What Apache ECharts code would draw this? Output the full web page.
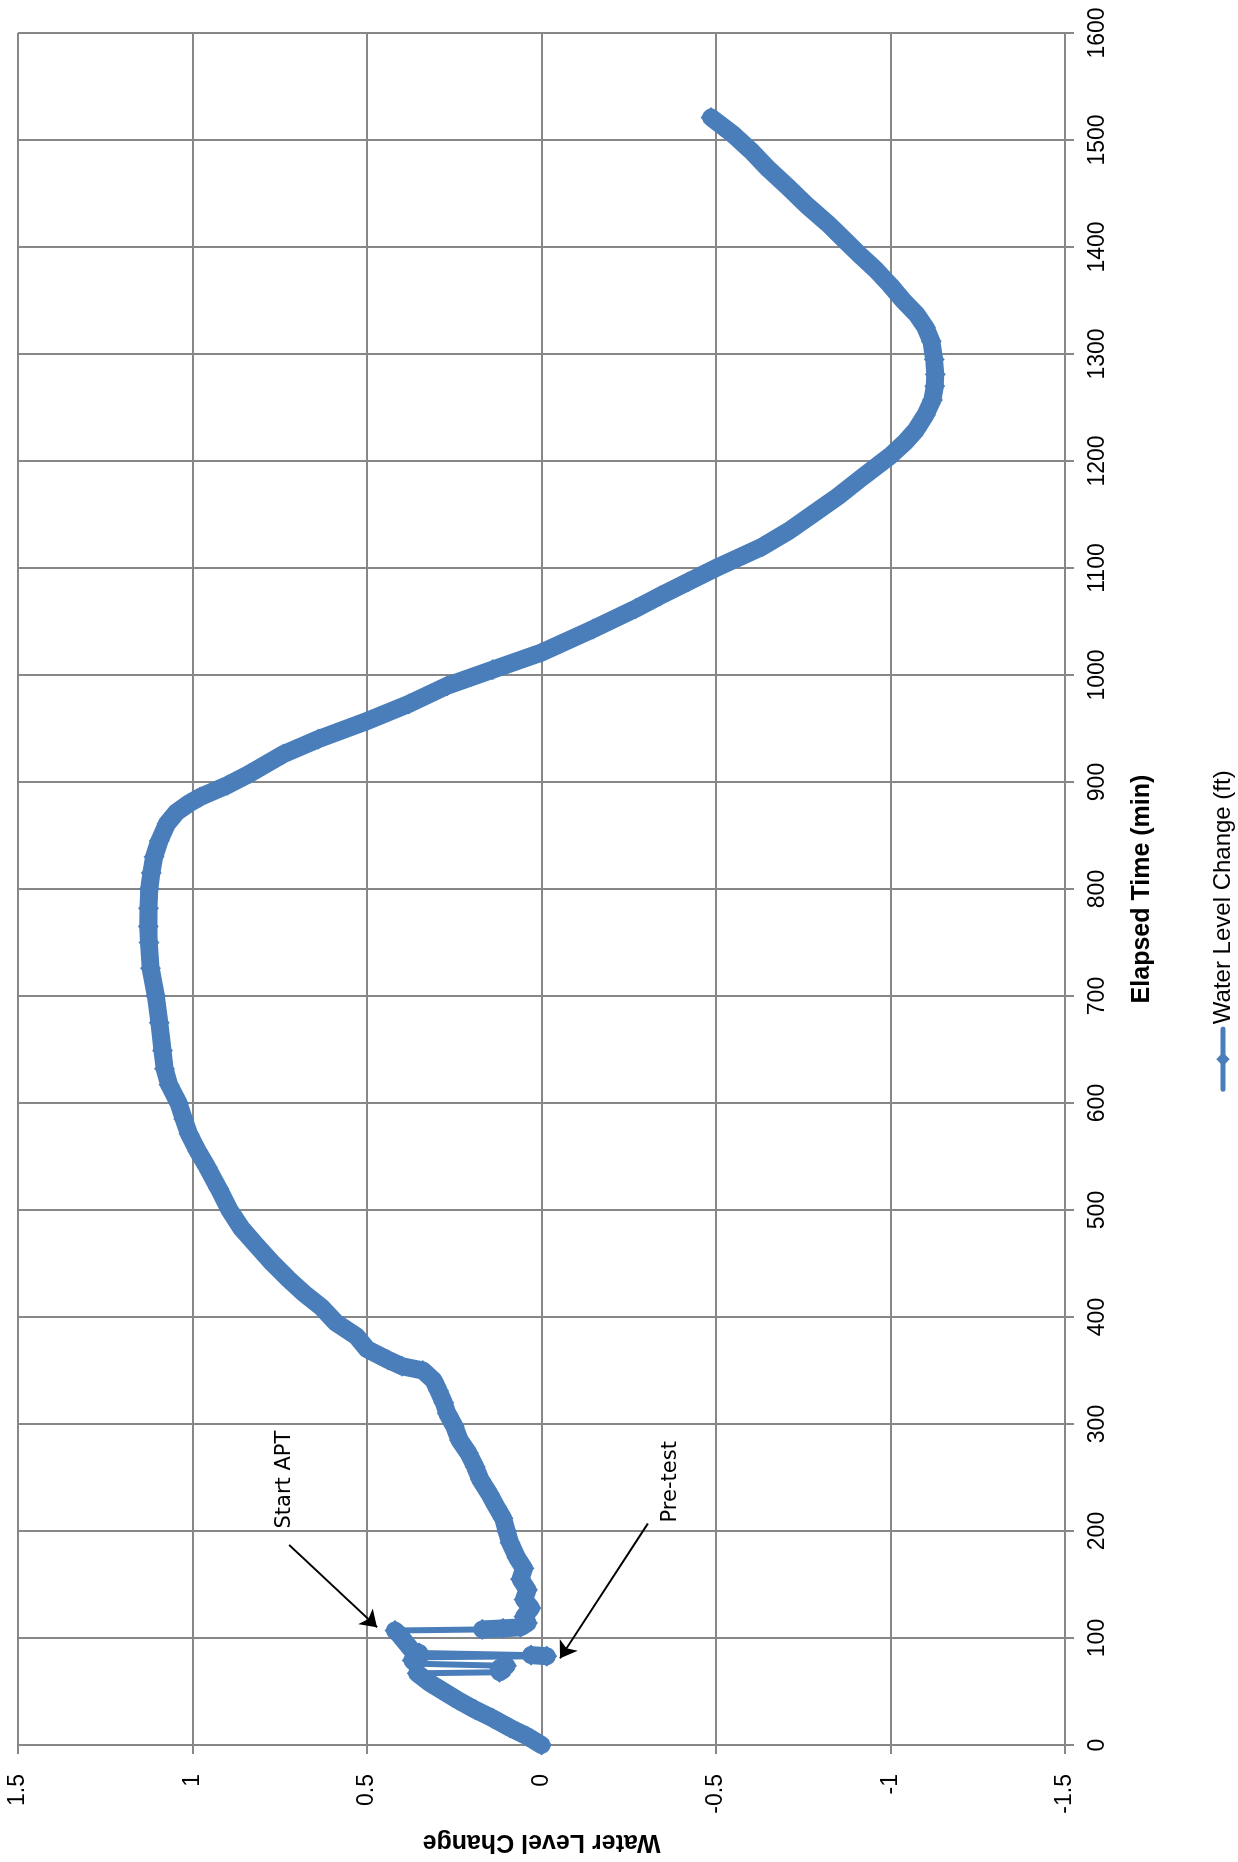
<!DOCTYPE html>
<html>
<head>
<meta charset="utf-8">
<script src="https://cdn.jsdelivr.net/npm/echarts@6/dist/echarts.min.js"></script>
<style>
  html, body { margin: 0; padding: 0; background: #fff; overflow: hidden; width: 1238px; height: 1862px; }
  #chart {
    position: absolute; left: 0; top: 0;
    width: 1862px; height: 1238px;
    transform-origin: 0 0;
    transform: translateY(1862px) rotate(-90deg);
  }
</style>
</head>
<body>
<div id="chart"></div>
<script>
// Elapsed time (min) and water level change (ft)
const elapsedTime = [
  0, 8, 16, 25, 33, 42, 50, 58, 67,
  68, 70, 72, 74,
  76, 79, 82,
  83, 84,
  86, 88, 92, 96, 100, 104, 107,
  108, 109, 110, 114, 120, 128, 136, 145, 155, 165, 175, 189,
  200, 212, 223, 235, 248, 260, 273, 285, 298, 310, 320, 331, 341, 350,
  354, 360, 370, 382, 395, 409, 422, 436, 450, 467, 483, 500, 520, 540,
  555, 571, 585, 600, 617, 632, 649, 675, 700, 726, 750, 765, 782, 800,
  815, 830, 845, 861, 872, 880, 886, 897, 908, 926, 940, 957, 973,
  990, 1005, 1021, 1043, 1062, 1074, 1087, 1100, 1120,
  1135, 1151, 1167, 1183, 1195, 1205, 1217, 1229, 1243, 1257, 1270, 1281,
  1295, 1312, 1325, 1337, 1350, 1364, 1378, 1391, 1406, 1422, 1439, 1456,
  1473, 1490, 1505, 1521
];
const waterLevel = [
  0.00, 0.04, 0.09, 0.14, 0.19, 0.24, 0.28, 0.32, 0.356,
  0.12, 0.11, 0.12, 0.10,
  0.36, 0.37, 0.35,
  -0.015, 0.03,
  0.35, 0.37, 0.38, 0.39, 0.40, 0.41, 0.42,
  0.17, 0.11, 0.06, 0.04, 0.05, 0.03, 0.05, 0.04, 0.06, 0.05, 0.07, 0.09,
  0.10, 0.11, 0.13, 0.15, 0.175, 0.19, 0.21, 0.235, 0.25, 0.27, 0.28, 0.295, 0.31, 0.34,
  0.40, 0.44, 0.50, 0.53, 0.59, 0.63, 0.68, 0.727, 0.77, 0.817, 0.86, 0.894, 0.925, 0.958,
  0.985, 1.01, 1.025, 1.04, 1.067, 1.08, 1.086, 1.095, 1.105, 1.12, 1.125, 1.127, 1.126, 1.124,
  1.118, 1.11, 1.095, 1.073, 1.045, 1.01, 0.978, 0.90, 0.835, 0.74, 0.64, 0.50, 0.38,
  0.27, 0.14, 0.0, -0.148, -0.27, -0.34, -0.42, -0.50, -0.633,
  -0.71, -0.78, -0.85, -0.912, -0.96, -1.0, -1.04, -1.073, -1.10, -1.12, -1.127, -1.128,
  -1.125, -1.117, -1.10, -1.075, -1.036, -1.0, -0.96, -0.917, -0.87, -0.82, -0.76, -0.706,
  -0.65, -0.60, -0.55, -0.486
];
const seriesName = 'Water Level Change (ft)';
const xAxisTitle = 'Elapsed Time (min)';
const yAxisTitle = 'Water Level Change';
// times after which the level jumps abruptly (drawn with the thin connecting line)
const jumpAfter = [67, 74, 82, 84, 107];
const stepRange = [67, 108];
// annotation arrows: [tail time, tail level, head time, head level]
const annotationLabels = ['Start APT', 'Pre-test'];
const annotationArrows = [
  [187, 0.723, 110, 0.471],
  [207, -0.305, 81, -0.053]
];
const annotationTextAt = [
  [248, 0.735],
  [246, -0.371]
];

const points = elapsedTime.map((t, i) => [t, waterLevel[i]]);
const thickData = [];
points.forEach(p => {
  thickData.push(p);
  if (jumpAfter.indexOf(p[0]) >= 0) thickData.push('-');
});
const thinData = points.filter(p => p[0] >= stepRange[0] && p[0] <= stepRange[1]);

const gridColor = '#878787';
const blue = '#4a7ebb';
const font = 'Liberation Sans';

const chart = echarts.init(document.getElementById('chart'), null, { renderer: 'canvas' });
const option = {
  animation: false,
  backgroundColor: '#ffffff',
  grid: { left: 117, right: 33, top: 18, bottom: 173, containLabel: false },
  xAxis: {
    type: 'value', min: 0, max: 1600, interval: 100,
    name: xAxisTitle, nameLocation: 'middle', nameGap: 65,
    nameTextStyle: { fontFamily: font, fontWeight: 'bold', fontSize: 25, color: '#000' },
    axisLine: { show: true, onZero: false, lineStyle: { color: gridColor, width: 2 } },
    axisTick: { show: true, length: 9, lineStyle: { color: gridColor, width: 2 } },
    axisLabel: { margin: 21, fontFamily: font, fontSize: 23, color: '#000', formatter: v => String(v) },
    splitLine: { show: true, lineStyle: { color: gridColor, width: 2 } }
  },
  yAxis: {
    type: 'value', min: -1.5, max: 1.5, interval: 0.5,
    name: yAxisTitle, nameLocation: 'middle', nameGap: 84, nameRotate: 90,
    nameTextStyle: { fontFamily: font, fontWeight: 'bold', fontSize: 25, color: '#000' },
    axisLine: { show: true, onZero: false, lineStyle: { color: gridColor, width: 2 } },
    axisTick: { show: true, length: 9, lineStyle: { color: gridColor, width: 2 } },
    axisLabel: { margin: 29, fontFamily: font, fontSize: 23, color: '#000', formatter: v => String(v) },
    splitLine: { show: true, lineStyle: { color: gridColor, width: 2 } }
  },
  legend: {
    show: true, left: 'center', top: 1206,
    itemWidth: 60, itemHeight: 17, itemGap: 10,
    textStyle: { fontFamily: font, fontSize: 24, color: '#000' },
    lineStyle: { width: 5 },
    data: [seriesName]
  },
  series: [{
    name: seriesName,
    type: 'line',
    data: thickData,
    connectNulls: false,
    symbol: 'diamond',
    symbolSize: 21,
    showAllSymbol: true,
    lineStyle: { color: blue, width: 18, join: 'round', cap: 'round' },
    itemStyle: { color: blue, borderWidth: 0 },
    z: 2
  }, {
    name: seriesName,
    type: 'line',
    data: thinData,
    symbol: 'diamond',
    symbolSize: 20,
    showAllSymbol: true,
    lineStyle: { color: blue, width: 6 },
    itemStyle: { color: blue, borderWidth: 0 },
    z: 2
  }, {
    name: 'annotations',
    type: 'line',
    data: [],
    z: 5,
    markLine: {
      silent: true,
      symbol: ['none', 'arrow'],
      symbolSize: 16,
      label: { show: false },
      lineStyle: { color: '#000', width: 2, type: 'solid' },
      data: annotationArrows.map(a => [{ coord: [a[0], a[1]] }, { coord: [a[2], a[3]] }])
    }
  }]
};
chart.setOption(option);

const g = annotationLabels.map((txt, i) => {
  const p = chart.convertToPixel({ gridIndex: 0 }, annotationTextAt[i]);
  return {
    type: 'text', x: p[0], y: p[1],
    style: { text: txt, fontFamily: 'DejaVu Sans', fontSize: 21, fill: '#000', align: 'center', verticalAlign: 'middle' }
  };
});
chart.setOption({ graphic: g });
</script>
</body>
</html>
